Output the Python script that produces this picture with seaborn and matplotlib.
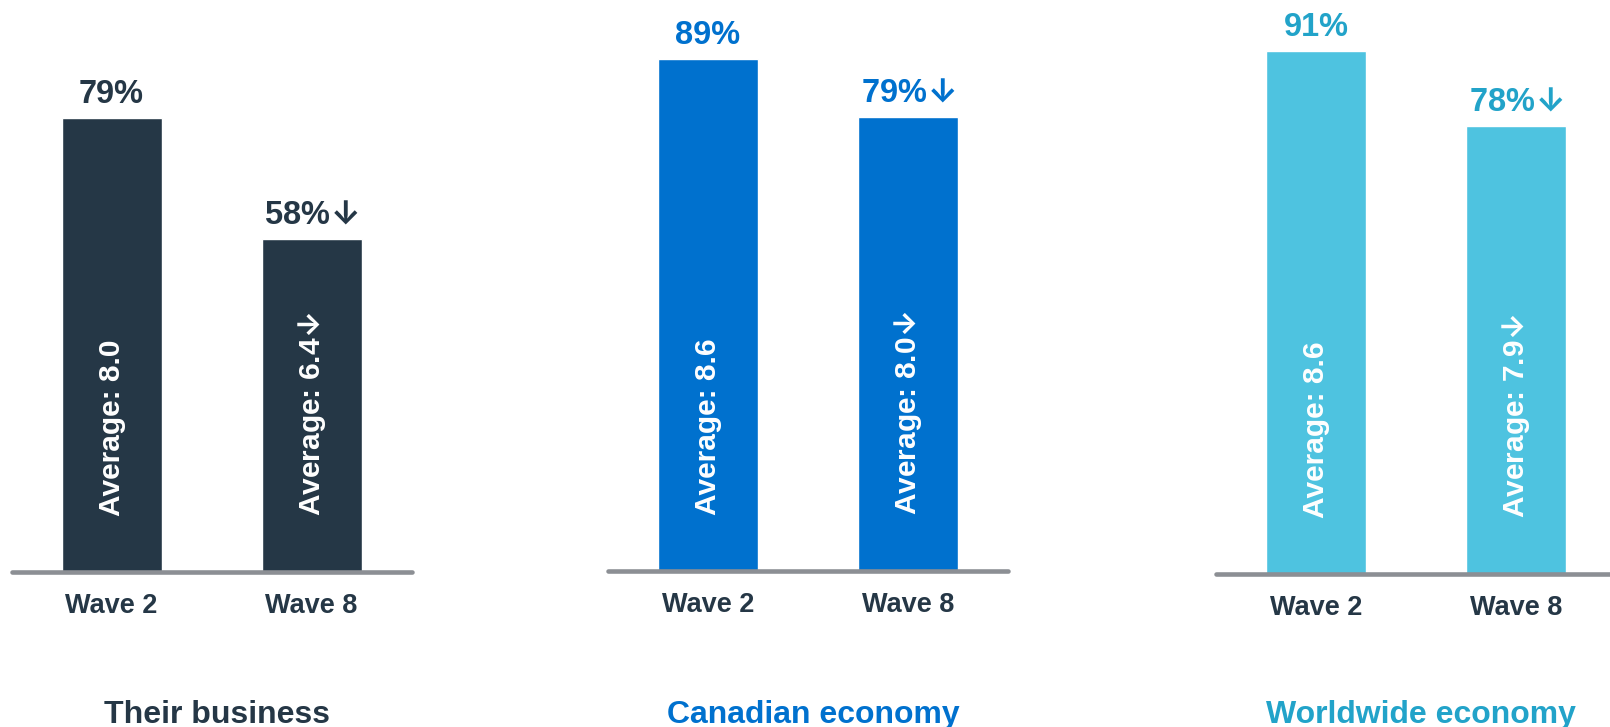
import matplotlib
matplotlib.use("Agg")
import matplotlib.pyplot as plt
import seaborn as sns
import pandas as pd

# Survey results: share of respondents by wave, with average score
panel_titles = ["Their business", "Canadian economy", "Worldwide economy"]
waves = ["Wave 2", "Wave 8"]
pct_business = [79, 58]
pct_canada = [89, 79]
pct_world = [91, 78]
avg_business = [8.0, 6.4]
avg_canada = [8.6, 8.0]
avg_world = [8.6, 7.9]
sig_drop = [False, True]  # significant decline vs. Wave 2

bar_colors = ["#253746", "#0071CE", "#4EC3E0"]
label_colors = ["#253746", "#0071CE", "#22A3C9"]
dark_text = "#253746"
base_color = "#8C8F94"

sns.set_theme(style="white")
plt.rcParams["font.family"] = ["Liberation Sans", "DejaVu Sans"]
plt.rcParams["font.weight"] = "bold"
# decline arrow drawn from Inter via mathtext
plt.rcParams["mathtext.fontset"] = "custom"
plt.rcParams["mathtext.rm"] = "Inter:bold"
plt.rcParams["mathtext.default"] = "rm"

W, H = 1610, 727
fig = plt.figure(figsize=(W / 100, H / 100), dpi=100)

# axes placement in pixels: (left, baseline)
layout = [(11.5, 572), (608, 571), (1216, 574)]
axes_px_w = 400
top_px = 20
px_per_pct = 5.75

pct_sets = [pct_business, pct_canada, pct_world]
avg_sets = [avg_business, avg_canada, avg_world]

for i, (title, pcts, avgs) in enumerate(zip(panel_titles, pct_sets, avg_sets)):
    left, base = layout[i]
    height_px = base - top_px
    ax = fig.add_axes([left / W, (H - base) / H, axes_px_w / W, height_px / H])
    df = pd.DataFrame({"wave": waves, "pct": pcts})
    sns.barplot(data=df, x="wave", y="pct", color=bar_colors[i], saturation=1,
                width=0.5, ax=ax)
    ax.set_xlim(-0.5, 1.5)
    ax.set_ylim(0, height_px / px_per_pct)
    ax.axhline(0, color=base_color, lw=3.3, zorder=5, clip_on=False)
    for s in ax.spines.values():
        s.set_visible(False)
    ax.set_yticks([])
    ax.set_xlabel("")
    ax.set_ylabel("")
    ax.tick_params(axis="x", length=0, pad=15, labelsize=19.5, labelcolor=dark_text)
    for lab in ax.get_xticklabels():
        lab.set_fontweight("bold")
    ax.patch.set_alpha(0)

    for j, (p, a, drop) in enumerate(zip(pcts, avgs, sig_drop)):
        arrow = r"$\!\downarrow$" if drop else ""
        ax.annotate(f"{p}%{arrow}", xy=(j, p), xytext=(0, 10.8),
                    textcoords="offset points", ha="center", va="baseline",
                    fontsize=23.5, fontweight="bold", color=label_colors[i])
        ax.annotate(f"Average: {a:.1f}{arrow}", xy=(j, 0), xytext=(0, 40.5),
                    textcoords="offset points", ha="center", va="bottom",
                    rotation=90, fontsize=21.5, fontweight="bold", color="white")

    fig.text((left + axes_px_w / 2 + 5) / W, (H - 723) / H, title,
             ha="center", va="baseline", fontsize=23, fontweight="bold",
             color=label_colors[i] if i > 0 else dark_text)

fig.savefig("out.png", dpi=100)
